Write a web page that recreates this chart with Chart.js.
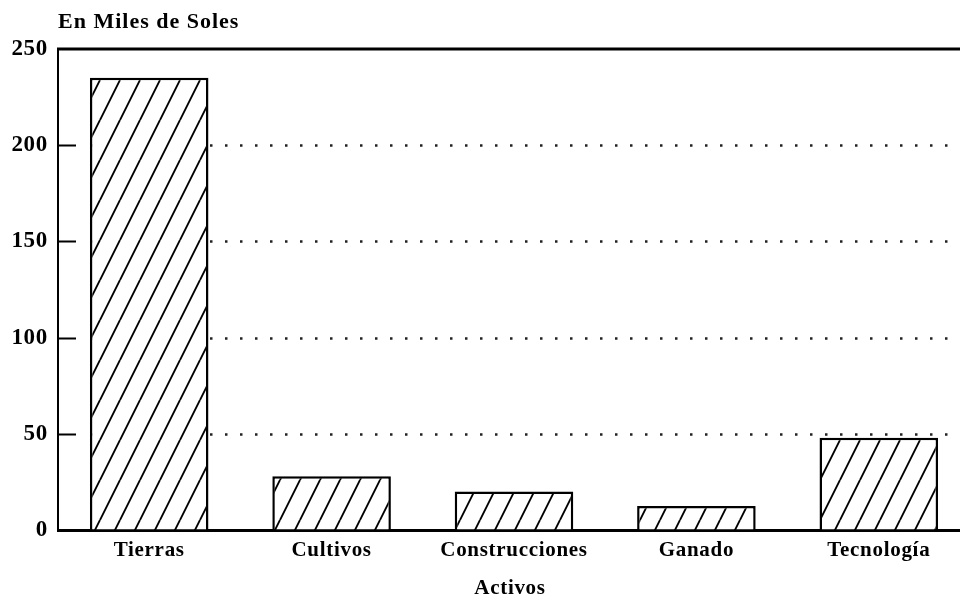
<!DOCTYPE html>
<html><head><meta charset="utf-8">
<script src="https://cdn.jsdelivr.net/npm/chart.js@4.4.0/dist/chart.umd.min.js"></script>
<style>html,body{margin:0;padding:0;background:#fff;overflow:hidden;width:960px;height:597px}
#wrap{width:970px;height:597px;position:relative}</style></head>
<body><div id="wrap"><canvas id="c" width="970" height="597" style="width:970px;height:597px"></canvas></div>
<script>
const categories = ['Tierras', 'Cultivos', 'Construcciones', 'Ganado', 'Tecnología'];
const values = [235, 28, 20, 12.5, 48];
const yTicks = [0, 50, 100, 150, 200, 250];
const yTitle = 'En Miles de Soles';
const xTitle = 'Activos';

const FONT = 'Liberation Serif';

function hatch() {
  const c = document.createElement('canvas');
  c.width = 20; c.height = 40;
  const g = c.getContext('2d');
  g.fillStyle = '#fff'; g.fillRect(0, 0, 20, 40);
  g.strokeStyle = '#000'; g.lineWidth = 1.9;
  g.beginPath();
  for (const o of [-20, 0, 20]) { g.moveTo(o, 40); g.lineTo(o + 20, 0); }
  g.stroke();
  return g.createPattern(c, 'repeat');
}

const decor = {
  id: 'decor',
  beforeDraw(chart) {
    chart.ctx.letterSpacing = '0.7px';
  },
  beforeDatasetsDraw(chart) {
    const { ctx, chartArea: a, scales: { y } } = chart;
    ctx.save();
    ctx.strokeStyle = '#222';
    ctx.lineWidth = 2.5;
    ctx.setLineDash([2.5, 12.5]);
    yTicks.forEach(v => {
      if (v === 0 || v === 250) return;
      const py = Math.round(y.getPixelForValue(v)) + 0.5;
      ctx.beginPath(); ctx.moveTo(a.left + 32, py); ctx.lineTo(a.right, py); ctx.stroke();
    });
    ctx.setLineDash([]);
    ctx.strokeStyle = '#000';
    ctx.lineWidth = 2;
    yTicks.forEach(v => {
      if (v === 0 || v === 250) return;
      const py = Math.round(y.getPixelForValue(v)) + 0.5;
      ctx.beginPath(); ctx.moveTo(a.left, py); ctx.lineTo(a.left + 18, py); ctx.stroke();
    });
    const ty = y.getPixelForValue(250);
    ctx.lineWidth = 3;
    ctx.beginPath(); ctx.moveTo(a.left - 1, ty); ctx.lineTo(a.right, ty); ctx.stroke();
    ctx.restore();
  },
  afterDraw(chart) {
    const { ctx } = chart;
    ctx.save();
    ctx.fillStyle = '#000';
    ctx.textBaseline = 'alphabetic';
    ctx.font = 'bold 22px "' + FONT + '"';
    ctx.letterSpacing = '1px';
    ctx.textAlign = 'left';
    ctx.fillText(yTitle, 58, 28);
    ctx.letterSpacing = '0.7px';
    ctx.font = 'bold 21px "' + FONT + '"';
    ctx.textAlign = 'center';
    ctx.fillText(xTitle, 510, 594);
    ctx.restore();
  }
};

new Chart(document.getElementById('c'), {
  type: 'bar',
  data: {
    labels: categories,
    datasets: [{
      data: values,
      backgroundColor: hatch(),
      borderColor: '#000',
      borderWidth: 2.5,
      barPercentage: 0.65,
      categoryPercentage: 1
    }]
  },
  options: {
    responsive: false,
    animation: false,
    layout: { padding: { top: 49, left: 0, right: 0, bottom: 0 } },
    plugins: { legend: { display: false }, tooltip: { enabled: false }, title: { display: false } },
    scales: {
      x: {
        grid: { display: false, drawTicks: false },
        border: { display: true, color: '#000', width: 3 },
        ticks: { color: '#000', font: { family: FONT, size: 21, weight: 'bold' }, padding: 8, maxRotation: 0, autoSkip: false },
        afterFit: s => { s.height = 67; }
      },
      y: {
        min: 0, max: 250,
        afterBuildTicks: s => { s.ticks = yTicks.map(v => ({ value: v })); },
        grid: { drawOnChartArea: false, drawTicks: false },
        border: { display: true, color: '#000', width: 2 },
        ticks: { color: '#000', font: { family: FONT, size: 23, weight: 'bold' }, padding: 10 },
        afterFit: s => { s.width = 58; }
      }
    }
  },
  plugins: [decor]
});
</script></body></html>
